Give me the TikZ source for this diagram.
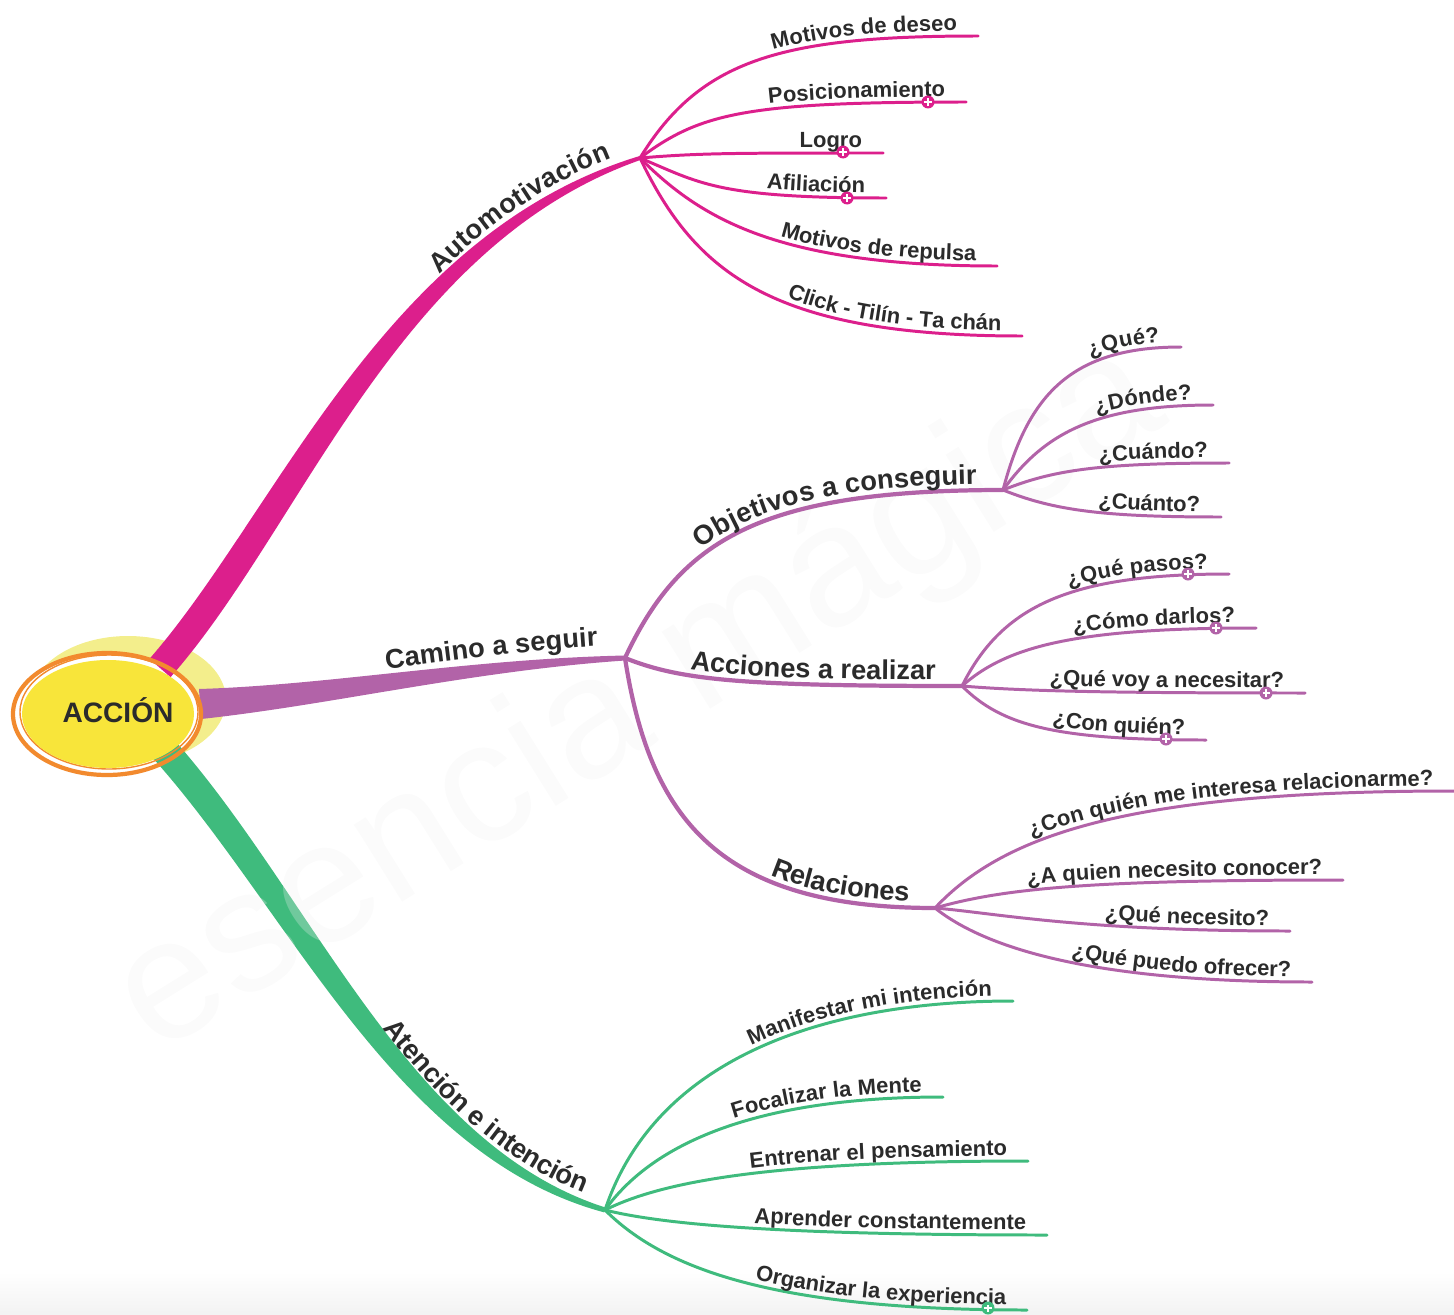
\documentclass[tikz,border=0pt]{standalone}
\usepackage{fontspec}
\setmainfont{Liberation Sans}
\usetikzlibrary{calc,decorations.text}
\definecolor{magA}{HTML}{DC1F8C}
\definecolor{purA}{HTML}{B263A8}
\definecolor{grnA}{HTML}{3FBB7D}
\definecolor{ink}{HTML}{2B2B2B}
\definecolor{ringA}{HTML}{F28A2E}
\definecolor{yolkA}{HTML}{F8E53A}
\definecolor{haloA}{HTML}{F3EE8C}
\newcommand\leaffont{\fontsize{12.5}{15}\selectfont\bfseries}
\newcommand\stemfont{\fontsize{15.5}{18}\selectfont\bfseries}
\tikzset{
  leaf/.style={draw=#1, line width=1.7pt, line cap=round},
  stem/.style={draw=#1, line width=2.4pt, line cap=round},
  lbl/.style={postaction={decorate, decoration={text along path, text={|\leaffont|#1},
      text align={right, right indent=12pt}, raise=3pt, text color=ink}}},
  biglbl/.style 2 args={postaction={decorate, decoration={text along path, text={|\stemfont|#1},
      text align={right, right indent=15pt}, raise=#2, text color=ink}}},
  plus/.style={circle, fill=#1, inner sep=0pt, minimum size=0.26cm,
    path picture={\draw[white, line width=0.7pt]
      ([xshift=-2pt]path picture bounding box.center) -- ([xshift=2pt]path picture bounding box.center)
      ([yshift=-2pt]path picture bounding box.center) -- ([yshift=2pt]path picture bounding box.center);}}
}
\begin{document}
\begin{tikzpicture}[x=0.02cm, y=-0.02cm]
\useasboundingbox (0,0) rectangle (1454,1315);
\shade[top color=white, bottom color=black!5] (0,1272) rectangle (1454,1315);

\coordinate (rootA) at (160,668);
\coordinate (auto) at (640,158);
\coordinate (rootB) at (200,704);
\coordinate (camino) at (625,658);
\coordinate (rootC) at (160,745);
\coordinate (atencion) at (605,1210);
\coordinate (objetivos) at (1003,490);
\coordinate (acciones) at (962,686);
\coordinate (relaciones) at (935,908);

\coordinate (deseo) at (978,36);
\coordinate (posic) at (966,102);
\coordinate (logro) at (883,153);
\coordinate (afil) at (886,198);
\coordinate (repulsa) at (997,266);
\coordinate (click) at (1022,336);
\coordinate (que) at (1181,347);
\coordinate (donde) at (1213,405);
\coordinate (cuando) at (1229,463);
\coordinate (cuanto) at (1221,517);
\coordinate (pasos) at (1229,574);
\coordinate (darlos) at (1256,628);
\coordinate (necesitar) at (1305,693);
\coordinate (conquien) at (1206,740);
\coordinate (interesa) at (1454,791);
\coordinate (conocer) at (1343,880);
\coordinate (necesito) at (1290,931);
\coordinate (ofrecer) at (1312,982);
\coordinate (manif) at (1013,1001);
\coordinate (focal) at (943,1097);
\coordinate (entrenar) at (1028,1161);
\coordinate (aprender) at (1047,1235);
\coordinate (organizar) at (1027,1310);

\fill[haloA] (128,700) ellipse [x radius=98, y radius=64];
\fill[white] (107,714) ellipse [x radius=95, y radius=62];

\fill[magA] ($(rootA)+(10.5,9.2)$) .. controls (303,527) and (396,246) .. ($(auto)+(0.6,1.9)$)
  -- ($(auto)+(-0.6,-1.9)$) .. controls (383,234) and (277,513) .. ($(rootA)+(-10.5,-9.2)$) -- cycle;
\fill[purA] ($(rootB)+(1,15)$) .. controls (331,705) and (471,671) .. ($(camino)+(0,2.5)$)
  -- ($(camino)+(0,-2.5)$) .. controls (469,659) and (329,685) .. ($(rootB)+(-1,-15)$) -- cycle;
\fill[grnA] ($(rootC)+(10.4,-9.4)$) .. controls (312,893) and (406,1144) .. ($(atencion)+(0.7,-2.4)$)
  -- ($(atencion)+(-0.7,2.4)$) .. controls (394,1156) and (288,907) .. ($(rootC)+(-10.4,9.4)$) -- cycle;

\node[rotate=32, text=gray!12, opacity=0.28, font=\fontsize{98}{98}\selectfont] (marca) at (640,700) {esencia mágica};

\path[biglbl={Automotivación}{5.5pt}] (rootA) .. controls (290,520) and (390,240) .. (auto);
\path[biglbl={Camino a seguir}{7.5pt}] (rootB) .. controls (330,695) and (470,665) .. (camino);
\path[biglbl={Atención e intención}{5.5pt}] (rootC) .. controls (300,900) and (400,1150) .. (atencion);

\draw[ringA, line width=2.4pt] (107,714) ellipse [x radius=94, y radius=61];
\draw[ringA, line width=0.8pt] (109,712) ellipse [x radius=89, y radius=57];
\fill[yolkA] (108,714) ellipse [x radius=86, y radius=54];
\node[font=\fontsize{16}{19}\selectfont\bfseries, text=ink] (accion) at (118,710) {ACCIÓN};

\draw[stem=purA, biglbl={Objetivos a conseguir}{3.5pt}] (camino) .. controls +(55,-118) and +(-243,0) .. (objetivos);
\draw[stem=purA, biglbl={Acciones a realizar}{3.5pt}] (camino) .. controls +(55,22) and +(-222,0) .. (acciones);
\draw[stem=purA, biglbl={Relaciones}{3.5pt}] (camino) .. controls +(25,162) and +(-215,0) .. (relaciones);

\draw[leaf=magA, lbl={Motivos de deseo}] (auto) .. controls +(60,-98) and +(-198,0) .. (deseo);
\draw[leaf=magA, lbl={Posicionamiento}] (auto) .. controls +(60,-45) and +(-220,0) .. (posic);
\draw[leaf=magA, lbl={Logro}] (auto) .. controls +(60,-5) and +(-150,0) .. (logro);
\draw[leaf=magA, lbl={Afiliación}] (auto) .. controls +(60,25) and +(-170,0) .. (afil);
\draw[leaf=magA, lbl={Motivos de repulsa}] (auto) .. controls +(60,60) and +(-220,0) .. (repulsa);
\draw[leaf=magA, lbl={Click - Tilín - Ta chán}] (auto) .. controls +(55,115) and +(-250,0) .. (click);

\draw[leaf=purA, lbl={¿Qué?}] (objetivos) .. controls +(25,-95) and +(-110,0) .. (que);
\draw[leaf=purA, lbl={¿Dónde?}] (objetivos) .. controls +(40,-55) and +(-120,0) .. (donde);
\draw[leaf=purA, lbl={¿Cuándo?}] (objetivos) .. controls +(50,-20) and +(-130,0) .. (cuando);
\draw[leaf=purA, lbl={¿Cuánto?}] (objetivos) .. controls +(50,20) and +(-120,0) .. (cuanto);

\draw[leaf=purA, lbl={¿Qué pasos?}] (acciones) .. controls +(40,-80) and +(-160,0) .. (pasos);
\draw[leaf=purA, lbl={¿Cómo darlos?}] (acciones) .. controls +(45,-40) and +(-180,0) .. (darlos);
\draw[leaf=purA, lbl={¿Qué voy a necesitar?}] (acciones) .. controls +(60,5) and +(-200,0) .. (necesitar);
\draw[leaf=purA, lbl={¿Con quién?}] (acciones) .. controls +(40,40) and +(-150,0) .. (conquien);

\draw[leaf=purA, lbl={¿Con quién me interesa relacionarme?}] (relaciones) .. controls +(70,-75) and +(-320,0) .. (interesa);
\draw[leaf=purA, lbl={¿A quien necesito conocer?}] (relaciones) .. controls +(70,-20) and +(-250,0) .. (conocer);
\draw[leaf=purA, lbl={¿Qué necesito?}] (relaciones) .. controls +(60,5) and +(-210,0) .. (necesito);
\draw[leaf=purA, lbl={¿Qué puedo ofrecer?}] (relaciones) .. controls +(50,40) and +(-220,0) .. (ofrecer);

\draw[leaf=grnA, lbl={Manifestar mi intención}] (atencion) .. controls +(50,-150) and +(-193,0) .. (manif);
\draw[leaf=grnA, lbl={Focalizar la Mente}] (atencion) .. controls +(50,-70) and +(-180,0) .. (focal);
\draw[leaf=grnA, lbl={Entrenar el pensamiento}] (atencion) .. controls +(60,-30) and +(-250,0) .. (entrenar);
\draw[leaf=grnA, lbl={Aprender constantemente}] (atencion) .. controls +(60,15) and +(-260,0) .. (aprender);
\draw[leaf=grnA, lbl={Organizar la experiencia}] (atencion) .. controls +(60,60) and +(-250,0) .. (organizar);

\node[plus=magA] (pposic) at (928,102) {};
\node[plus=magA] (plogro) at (843,152) {};
\node[plus=magA] (pafil) at (847,198) {};
\node[plus=purA] (ppasos) at (1188,574) {};
\node[plus=purA] (pdarlos) at (1216,628) {};
\node[plus=purA] (pnecesitar) at (1266,693) {};
\node[plus=purA] (pconquien) at (1166,739) {};
\node[plus=grnA] (porganizar) at (988,1308) {};
\end{tikzpicture}
\end{document}
